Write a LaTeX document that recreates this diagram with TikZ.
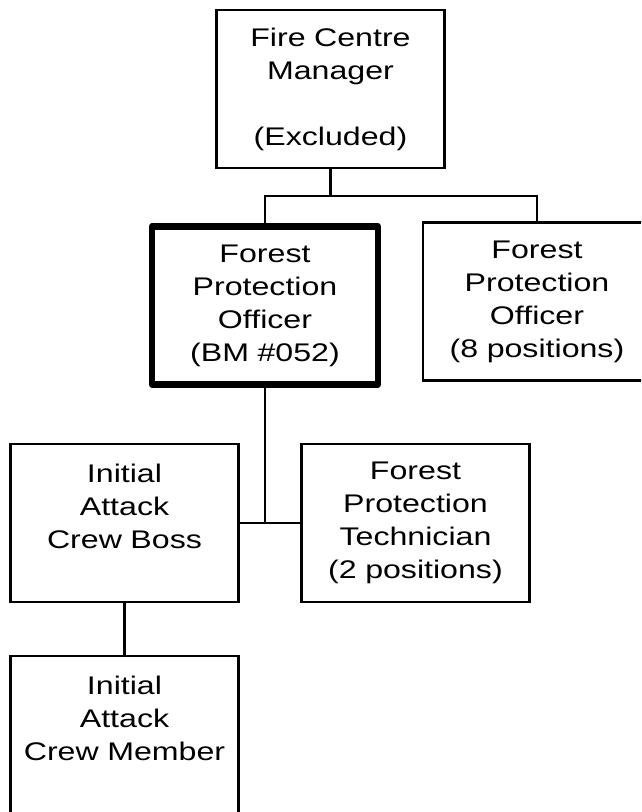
\documentclass[tikz,border=0pt]{standalone}
\usepackage{fontspec}
\setmainfont{Liberation Sans}[FakeStretch=1.26]
\usetikzlibrary{positioning}

\begin{document}
\begin{tikzpicture}[x=1pt,y=-1pt,on grid,
    post/.style={draw,line width=2.2pt,minimum width=228pt,minimum height=158pt,
      text width=226pt,align=center,inner sep=0pt,
      font=\fontsize{25.5}{33}\selectfont},
    keypost/.style={post,line width=6.5pt,line join=round,minimum width=226pt},
    link/.style={line width=2.2pt}]
  \clip (0,0) rectangle (641,812);
  \node[post] (fcm) at (330.5,89) {Fire Centre\\Manager\\\mbox{}\\(Excluded)};
  \node[keypost] (fpo) [below left=216.5pt and 65.5pt of fcm] {Forest\\Protection\\Officer\\(BM \#052)};
  \node[post] (fpo8) [below right=212.5pt and 206.5pt of fcm] {Forest\\Protection\\Officer\\(8 positions)};
  \node[post] (iacb) [below left=217.5pt and 140.5pt of fpo] {Initial\\Attack\\Crew Boss\\\mbox{}};
  \node[post] (fpt) [right=291pt of iacb] {Forest\\Protection\\Technician\\(2 positions)};
  \node[post] (iacm) [below=212pt of iacb] {Initial\\Attack\\Crew Member\\\mbox{}};

  \path (fcm.south) ++(0,27) coordinate (split);
  \draw[link] (fcm.south) -- (split);
  \draw[link] (fpo.north) |- (split) -| (fpo8.north);
  \draw[link] (fpo.south) -- (fpo.south |- fpt.west);
  \draw[link] (iacb.east) -- (fpt.west);
  \draw[link] (iacb) -- (iacm);
\end{tikzpicture}
\end{document}
